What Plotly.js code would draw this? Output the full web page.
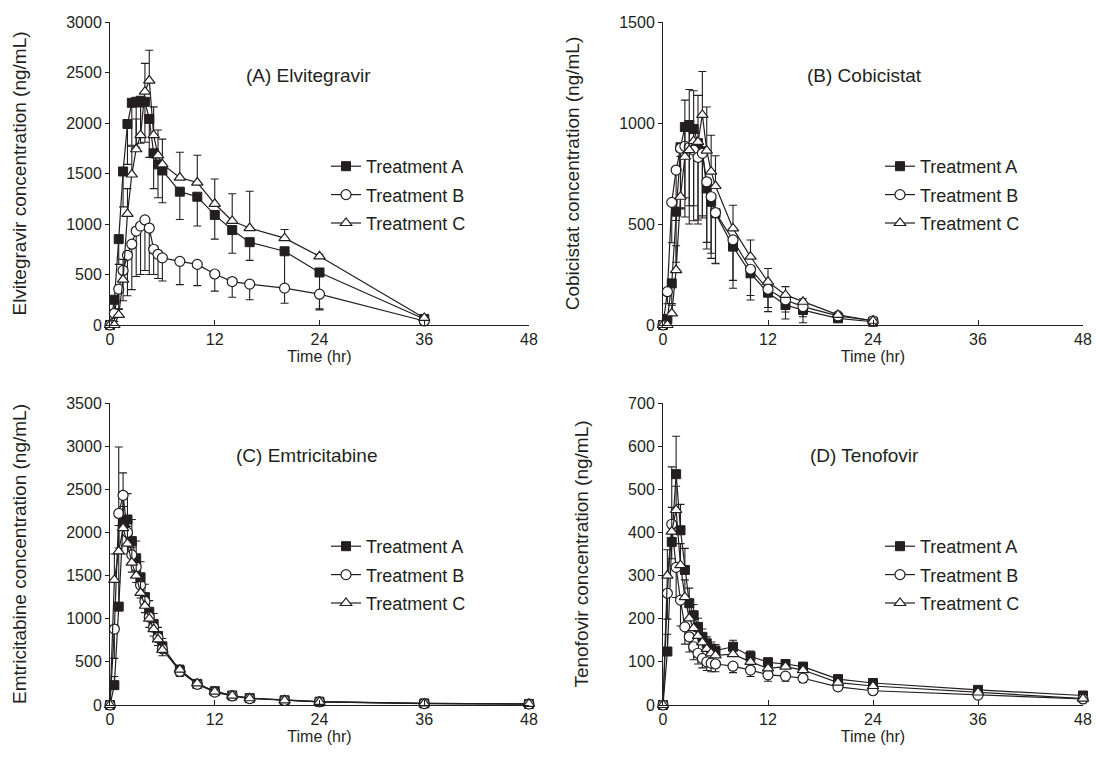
<!DOCTYPE html>
<html>
<head>
<meta charset="utf-8">
<script src="https://cdn.plot.ly/plotly-3.0.1.min.js"></script>
<style>html,body{margin:0;padding:0;background:#fff;}#chart{width:1096px;height:764px;}</style>
</head>
<body>
<div id="chart"></div>
<script>
// ---- time points (hr) ----
const timeElv = [0,0.5,1,1.5,2,2.5,3,3.5,4,4.5,5,5.5,6,8,10,12,14,16,20,24,36];
const timeCobi = [0,0.5,1,1.5,2,2.5,3,3.5,4,4.5,5,5.5,6,8,10,12,14,16,20,24];
const timeLong = [0,0.5,1,1.5,2,2.5,3,3.5,4,4.5,5,5.5,6,8,10,12,14,16,20,24,36,48];

// ---- (A) Elvitegravir ----
const elvA   = [0,250,850,1520,1990,2200,2210,2220,2210,2040,1700,1590,1530,1320,1270,1090,940,820,730,520,60];
const elvAsd = [0,100,250,350,400,420,450,420,400,380,350,330,320,275,290,240,230,180,340,360,20];
const elvB   = [0,116,355,540,690,800,930,980,1040,960,750,700,665,630,600,505,430,405,365,305,40];
const elvBsd = [0,80,200,300,400,450,450,480,500,460,250,240,230,230,210,170,155,155,150,155,15];
const elvC   = [0,0,100,450,1100,1490,1740,1880,2310,2420,1880,1680,1590,1460,1410,1200,1030,960,860,680,70];
const elvCsd = [0,0,60,200,250,280,300,280,280,300,280,250,250,250,270,245,270,365,85,20,10];

// ---- (B) Cobicistat ----
const cobiA   = [0,30,206,561,880,980,990,970,900,860,676,610,553,388,256,160,99,74,33,16];
const cobiAsd = [0,20,100,250,300,350,400,380,380,320,300,280,250,206,132,94,69,63,15,5];
const cobiB   = [0,165,607,767,875,885,880,866,830,850,709,635,556,421,276,177,124,91,45,21];
const cobiBsd = [0,60,200,250,300,350,380,350,330,320,300,280,250,200,130,90,60,50,15,5];
const cobiC   = [0,0,58,272,635,833,866,910,907,1040,863,759,688,478,338,214,149,115,50,21];
const cobiCsd = [0,0,40,120,200,280,300,250,230,215,216,180,150,115,83,66,41,15,8,5];

// ---- (C) Emtricitabine ----
const emtA   = [0,230,1140,2120,2150,1900,1700,1480,1250,1080,940,800,680,400,245,160,110,80,55,38,18,12];
const emtAsd = [0,100,1850,570,300,250,200,180,150,130,120,100,90,60,40,25,18,12,8,6,4,3];
const emtB   = [0,880,2220,2430,2000,1740,1600,1390,1200,1020,900,780,650,390,240,150,105,75,52,36,17,11];
const emtBsd = [0,340,400,300,250,200,180,150,130,120,100,90,80,60,40,25,18,12,8,6,4,3];
const emtC   = [0,1450,1780,2050,1870,1650,1500,1300,1150,1000,880,760,640,410,250,155,108,78,54,37,18,12];
const emtCsd = [0,300,300,250,200,180,150,130,120,100,90,80,70,50,35,25,18,12,8,6,4,3];

// ---- (D) Tenofovir ----
const tenA   = [0,124,378,535,405,313,236,208,181,158,143,131,126,135,113,99,95,89,60,51,35,22];
const tenAsd = [0,40,80,88,60,50,35,25,20,18,15,15,14,15,12,10,10,8,6,5,4,3];
const tenB   = [0,259,419,319,243,181,158,135,120,108,100,97,95,90,81,70,67,62,42,33,23,14];
const tenBsd = [0,60,80,70,60,40,35,30,25,22,20,20,18,15,15,15,12,10,8,6,4,3];
const tenC   = [0,300,402,452,324,250,201,178,160,145,130,120,115,118,100,85,89,81,52,44,29,15];
const tenCsd = [0,60,150,55,50,40,30,25,20,18,15,15,14,15,12,10,10,8,6,5,4,3];

const seriesNames = ['Treatment A','Treatment B','Treatment C'];
const xTicks = [0,12,24,36,48];

const INK = '#231f20';
const FONT = '"Liberation Sans", Arial, sans-serif';
const zeros = n => new Array(n).fill(0);

const markerStyles = [
  {symbol:'square', size:9, color:INK, line:{color:INK, width:1}},
  {symbol:'circle', size:10, color:'#ffffff', line:{color:INK, width:1.2}},
  {symbol:'triangle-up', size:10, color:'#ffffff', line:{color:INK, width:1.2}}
];

function mk(x, y, sd, dir, idx, panel) {
  const n = y.length;
  return {
    type:'scatter', mode:'lines+markers', x:x, y:y,
    name: seriesNames[idx],
    xaxis: panel.xa, yaxis: panel.ya,
    legend: panel.lg, legendgroup: panel.lg + idx,
    cliponaxis:false,
    line:{color:INK, width:1.2},
    marker: markerStyles[idx],
    error_y:{type:'data', symmetric:false,
      array: dir === 'up' ? sd : zeros(n),
      arrayminus: dir === 'down' ? sd : zeros(n),
      color:INK, thickness:1.1, width:4}
  };
}

const P1 = {xa:'x', ya:'y', lg:'legend'};
const P2 = {xa:'x2', ya:'y2', lg:'legend2'};
const P3 = {xa:'x3', ya:'y3', lg:'legend3'};
const P4 = {xa:'x4', ya:'y4', lg:'legend4'};

const data = [
  mk(timeElv, elvA, elvAsd, 'down', 0, P1),
  mk(timeElv, elvB, elvBsd, 'down', 1, P1),
  mk(timeElv, elvC, elvCsd, 'up', 2, P1),
  mk(timeCobi, cobiA, cobiAsd, 'down', 0, P2),
  mk(timeCobi, cobiB, cobiBsd, 'down', 1, P2),
  mk(timeCobi, cobiC, cobiCsd, 'up', 2, P2),
  mk(timeLong, emtA, emtAsd, 'up', 0, P3),
  mk(timeLong, emtB, emtBsd, 'down', 1, P3),
  mk(timeLong, emtC, emtCsd, 'up', 2, P3),
  mk(timeLong, tenA, tenAsd, 'up', 0, P4),
  mk(timeLong, tenB, tenBsd, 'down', 1, P4),
  mk(timeLong, tenC, tenCsd, 'up', 2, P4)
];

const W = 1096, H = 764;
const px = v => v / W;
const py = v => 1 - v / H;

function xax(d0, d1, anchor) {
  return {domain:[px(d0), px(d1)], range:[0,48], tickvals:xTicks, ticks:'inside', ticklen:5,
    tickcolor:INK, tickwidth:1, showline:true, linecolor:INK, linewidth:1, showgrid:false, zeroline:false,
    anchor:anchor, tickfont:{size:16, color:INK},
    title:{text:'Time (hr)', font:{size:16, color:INK}, standoff:3}};
}
function yax(d0, d1, max, dt, anchor, title) {
  return {domain:[py(d0), py(d1)], range:[0,max], dtick:dt, tick0:0, ticks:'outside', ticklen:4,
    tickcolor:INK, tickwidth:1, showline:true, linecolor:INK, linewidth:1, showgrid:false, zeroline:false,
    anchor:anchor, tickfont:{size:16, color:INK},
    title:{text:title, font:{size:19, color:INK}, standoff:34}};
}
function leg(x, y) {
  return {x:px(x), y:py(y), xanchor:'left', yanchor:'top', bgcolor:'rgba(0,0,0,0)',
    font:{size:18, color:INK}, tracegroupgap:2, traceorder:'grouped', itemwidth:30};
}
function note(text, x, y) {
  return {text:text, x:px(x), y:py(y), xref:'paper', yref:'paper', xanchor:'center', yanchor:'middle',
    showarrow:false, font:{size:19, color:INK}};
}

const layout = {
  width:W, height:H, margin:{l:0, r:0, t:0, b:0},
  paper_bgcolor:'#ffffff', plot_bgcolor:'#ffffff',
  font:{family:FONT, color:INK, size:16},
  showlegend:true,
  xaxis: xax(110, 529, 'y'),
  yaxis: yax(325, 22, 3000, 500, 'x', 'Elvitegravir concentration (ng/mL)'),
  xaxis2: xax(663, 1083, 'y2'),
  yaxis2: yax(325, 22, 1500, 500, 'x2', 'Cobicistat concentration (ng/mL)'),
  xaxis3: xax(110, 529, 'y3'),
  yaxis3: yax(705, 403, 3500, 500, 'x3', 'Emtricitabine concentration (ng/mL)'),
  xaxis4: xax(663, 1083, 'y4'),
  yaxis4: yax(705, 403, 700, 100, 'x4', 'Tenofovir concentration (ng/mL)'),
  legend: leg(326, 148),
  legend2: leg(880, 148),
  legend3: leg(326, 528),
  legend4: leg(880, 528),
  annotations: [
    note('(A) Elvitegravir', 308, 76),
    note('(B) Cobicistat', 864, 76),
    note('(C) Emtricitabine', 306, 455),
    note('(D) Tenofovir', 864, 455)
  ]
};

Plotly.newPlot('chart', data, layout, {displayModeBar:false, staticPlot:true});
</script>
</body>
</html>
